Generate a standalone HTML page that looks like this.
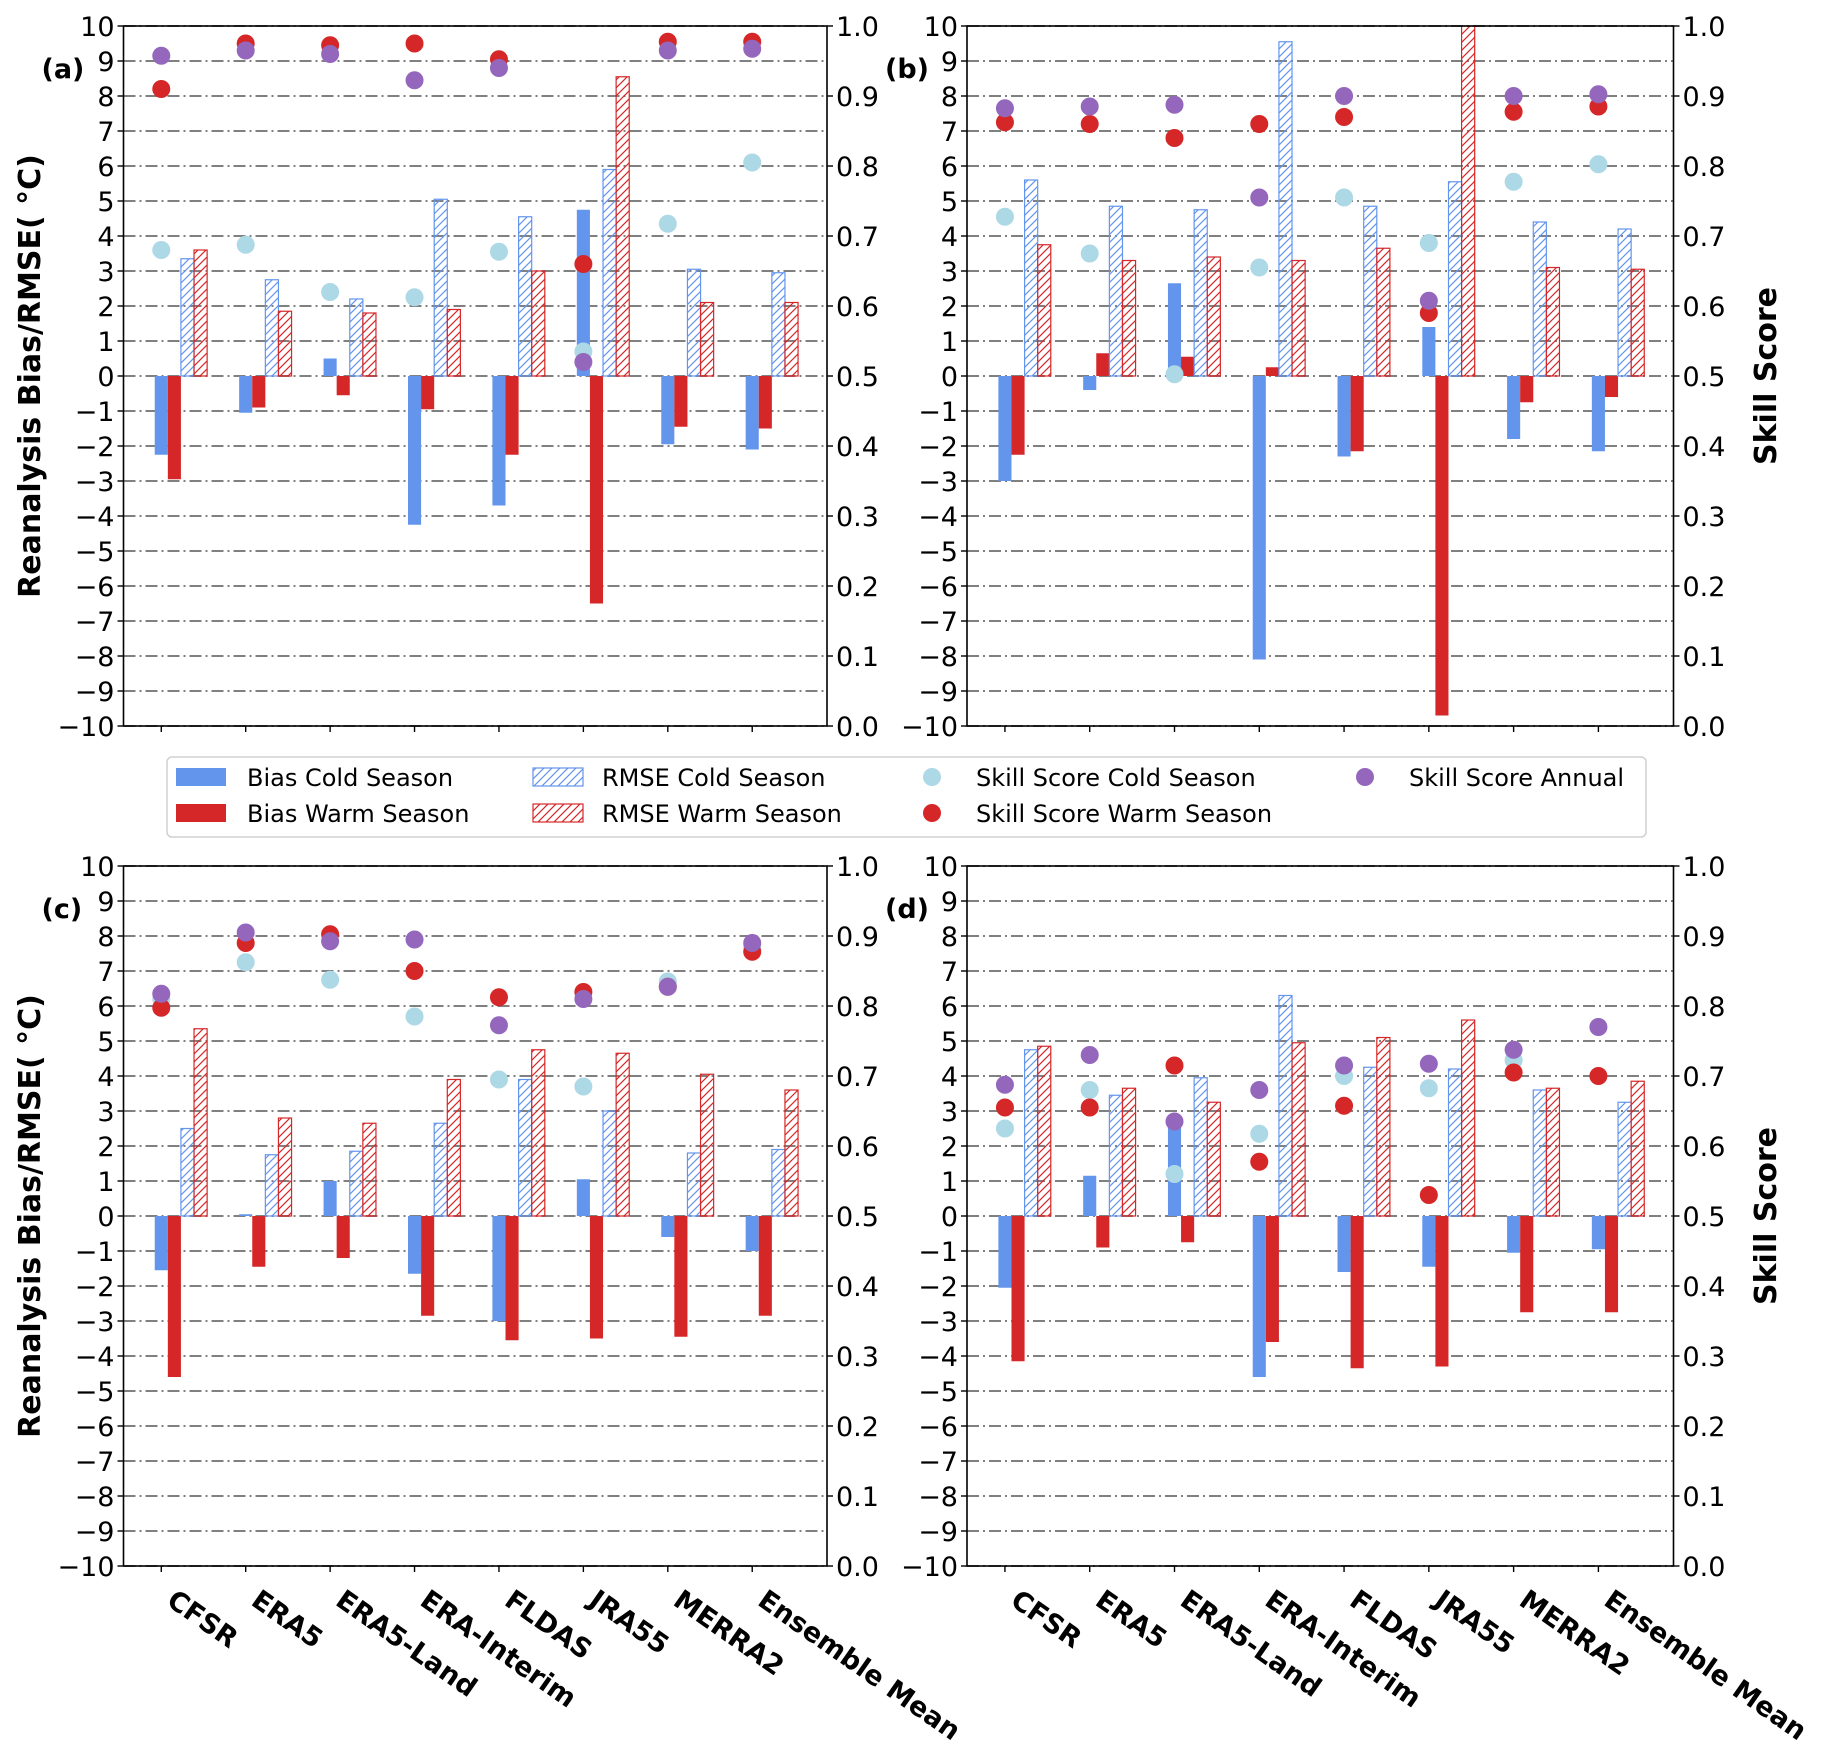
<!DOCTYPE html>
<html><head><meta charset="utf-8"><style>
html,body{margin:0;padding:0;background:#fff}
svg{display:block;font-family:"DejaVu Sans","Liberation Sans",sans-serif}
</style></head><body>
<svg id="fig" width="1826" height="1754" viewBox="0 0 1826 1754" xmlns="http://www.w3.org/2000/svg">
<defs>
<pattern id="hb" patternUnits="userSpaceOnUse" width="8" height="8">
<path d="M-2,10 L10,-2 M-2,2 L2,-2 M6,10 L10,6" stroke="#6495ED" stroke-width="1.2"/>
</pattern>
<pattern id="hr" patternUnits="userSpaceOnUse" width="8" height="8">
<path d="M-2,10 L10,-2 M-2,2 L2,-2 M6,10 L10,6" stroke="#D62728" stroke-width="1.2"/>
</pattern>
</defs>
</svg>
<script>
const categories = ["CFSR","ERA5","ERA5-Land","ERA-Interim","FLDAS","JRA55","MERRA2","Ensemble Mean"];
const yTicks = [-10,-9,-8,-7,-6,-5,-4,-3,-2,-1,0,1,2,3,4,5,6,7,8,9,10];
const skillTicks = ["0.0","0.1","0.2","0.3","0.4","0.5","0.6","0.7","0.8","0.9","1.0"];
const panelLabels = ["(a)","(b)","(c)","(d)"];

const biasColdA = [-2.25,-1.05,0.5,-4.25,-3.7,4.75,-1.95,-2.1];
const biasWarmA = [-2.95,-0.9,-0.55,-0.95,-2.25,-6.5,-1.45,-1.5];
const rmseColdA = [3.35,2.75,2.2,5.05,4.55,5.9,3.05,2.95];
const rmseWarmA = [3.6,1.85,1.8,1.9,3.0,8.55,2.1,2.1];
const skillColdA = [0.68,0.6875,0.62,0.6125,0.6775,0.535,0.7175,0.805];
const skillWarmA = [0.91,0.975,0.9725,0.975,0.9525,0.66,0.9775,0.9775];
const skillAnnA = [0.9575,0.965,0.96,0.9225,0.94,0.52,0.965,0.9675];

const biasColdB = [-3.0,-0.4,2.65,-8.1,-2.3,1.4,-1.8,-2.15];
const biasWarmB = [-2.25,0.65,0.55,0.25,-2.15,-9.7,-0.75,-0.6];
const rmseColdB = [5.6,4.85,4.75,9.55,4.85,5.55,4.4,4.2];
const rmseWarmB = [3.75,3.3,3.4,3.3,3.65,10.0,3.1,3.05];
const skillColdB = [0.7275,0.675,0.5025,0.655,0.755,0.69,0.7775,0.8025];
const skillWarmB = [0.8625,0.86,0.84,0.86,0.87,0.59,0.8775,0.885];
const skillAnnB = [0.8825,0.885,0.8875,0.755,0.9,0.6075,0.9,0.9025];

const biasColdC = [-1.55,0.05,1.0,-1.65,-3.0,1.05,-0.6,-1.0];
const biasWarmC = [-4.6,-1.45,-1.2,-2.85,-3.55,-3.5,-3.45,-2.85];
const rmseColdC = [2.5,1.75,1.85,2.65,3.9,3.0,1.8,1.9];
const rmseWarmC = [5.35,2.8,2.65,3.9,4.75,4.65,4.05,3.6];
const skillColdC = [0.81,0.8625,0.8375,0.785,0.695,0.685,0.835,0.885];
const skillWarmC = [0.7975,0.89,0.9025,0.85,0.8125,0.82,0.8275,0.8775];
const skillAnnC = [0.8175,0.905,0.8925,0.895,0.7725,0.81,0.8275,0.89];

const biasColdD = [-2.05,1.15,2.6,-4.6,-1.6,-1.45,-1.05,-0.95];
const biasWarmD = [-4.15,-0.9,-0.75,-3.6,-4.35,-4.3,-2.75,-2.75];
const rmseColdD = [4.75,3.45,3.95,6.3,4.25,4.2,3.6,3.25];
const rmseWarmD = [4.85,3.65,3.25,4.95,5.1,5.6,3.65,3.85];
const skillColdD = [0.625,0.68,0.56,0.6175,0.7,0.6825,0.7225,0.77];
const skillWarmD = [0.655,0.655,0.715,0.5775,0.6575,0.53,0.705,0.7];
const skillAnnD = [0.6875,0.73,0.635,0.68,0.715,0.7175,0.7375,0.77];

const svg = document.getElementById('fig');
const NS = 'http://www.w3.org/2000/svg';
function mk(tag, attrs, parent){const e=document.createElementNS(NS,tag);for(const k in attrs)e.setAttribute(k,attrs[k]);(parent||svg).appendChild(e);return e;}

const panels = [
 {id:'a',x0:123.5,x1:827,y0:26,y1:726,bc:biasColdA,bw:biasWarmA,rc:rmseColdA,rw:rmseWarmA,sc:skillColdA,sw:skillWarmA,sa:skillAnnA,xl:false},
 {id:'b',x0:967,x1:1673.5,y0:26,y1:726,bc:biasColdB,bw:biasWarmB,rc:rmseColdB,rw:rmseWarmB,sc:skillColdB,sw:skillWarmB,sa:skillAnnB,xl:false},
 {id:'c',x0:123.5,x1:827,y0:866,y1:1566,bc:biasColdC,bw:biasWarmC,rc:rmseColdC,rw:rmseWarmC,sc:skillColdC,sw:skillWarmC,sa:skillAnnC,xl:true},
 {id:'d',x0:967,x1:1673.5,y0:866,y1:1566,bc:biasColdD,bw:biasWarmD,rc:rmseColdD,rw:rmseWarmD,sc:skillColdD,sw:skillWarmD,sa:skillAnnD,xl:true}
];

panels.forEach((p,pi)=>{
  const g = mk('g',{});
  
  
  const W=p.x1-p.x0;
  const xs = i => p.x0 + W*(0.0537 + 0.12*i);
  const ys = v => p.y0 + (10 - v)/20*(p.y1-p.y0);
  const ss = s => p.y1 - s*(p.y1-p.y0);
  const bw = 13.1;
  yTicks.forEach(t=>{
    const y=ys(t);
    const l=mk('line',{x1:p.x0,x2:p.x1,y1:y,y2:y,stroke:'#808080','stroke-width':2,'stroke-dasharray':'12,4,2,4'},g);
    
    
  });
  const series=[[p.bc,'#6495ED',null,'bias-cold'],[p.bw,'#D62728',null,'bias-warm'],[p.rc,'#6495ED','url(#hb)','rmse-cold'],[p.rw,'#D62728','url(#hr)','rmse-warm']];
  series.forEach((s,k)=>{
    s[0].forEach((v,i)=>{
      const cx=xs(i)+k*bw;
      const yt=Math.min(ys(v),ys(0)), h=Math.abs(ys(v)-ys(0));
      const r=mk('rect',{x:cx-bw/2,y:yt,width:bw,height:h,fill:s[2]?s[2]:s[1],stroke:s[2]?s[1]:'none','stroke-width':s[2]?1.2:0},g);
      
      
    });
  });
  [[p.sc,'#ADD8E6','skill-cold'],[p.sw,'#D62728','skill-warm'],[p.sa,'#9467BD','skill-annual']].forEach(s=>{
    s[0].forEach((v,i)=>{
      const c=mk('circle',{cx:xs(i),cy:ss(v),r:9,fill:s[1]},g);
      
      
    });
  });
  const fr=mk('rect',{x:p.x0,y:p.y0,width:W,height:p.y1-p.y0,fill:'none',stroke:'#000','stroke-width':1.6},g);
  
  
  yTicks.forEach(t=>{
    const y=ys(t);
    mk('line',{x1:p.x0-6,x2:p.x0,y1:y,y2:y,stroke:'#000','stroke-width':1.4},g);
    const tx=mk('text',{x:p.x0-9,y:y+10,'text-anchor':'end','font-size':27,fill:'#000'},g);
    tx.textContent = t<0 ? '\u2212'+Math.abs(t) : String(t);
    
    
  });
  skillTicks.forEach((t,i)=>{
    const y=ss(i/10);
    mk('line',{x1:p.x1,x2:p.x1+6,y1:y,y2:y,stroke:'#000','stroke-width':1.4},g);
    const tx=mk('text',{x:p.x1+9,y:y+10,'font-size':27,fill:'#000'},g);
    tx.textContent=t;
    
    
  });
  categories.forEach((c,i)=>{
    const x=xs(i);
    mk('line',{x1:x,x2:x,y1:p.y1,y2:p.y1+6,stroke:'#000','stroke-width':1.4},g);
    if(p.xl){
      const tx=mk('text',{x:x+4,y:p.y1+38,'font-size':27,'font-weight':'bold',fill:'#000',transform:'rotate(35 '+(x+4)+' '+(p.y1+38)+')'},g);
      tx.textContent=c;
      
      
    }
  });
  const pl=mk('text',{x:p.x0-82,y:p.y0+52,'font-size':27,'font-weight':'bold',fill:'#000'},g);
  pl.textContent=panelLabels[pi];
  
  
  const cy=(p.y0+p.y1)/2;
  if(pi%2===0){
    const yl=mk('text',{x:40,y:cy,'text-anchor':'middle','font-size':30,'font-weight':'bold',fill:'#000',transform:'rotate(-90 40 '+cy+')'});
    yl.textContent='Reanalysis Bias/RMSE( \u00B0C)';
    
    
  } else {
    const yl=mk('text',{x:1776,y:cy,'text-anchor':'middle','font-size':30,'font-weight':'bold',fill:'#000',transform:'rotate(-90 1776 '+cy+')'});
    yl.textContent='Skill Score';
    
    
  }
});

const lg=mk('g',{});


mk('rect',{x:167,y:757,width:1479,height:80,rx:5,fill:'#fff',stroke:'#d0d0d0','stroke-width':1.5},lg);
const legendItems=[
 ['Bias Cold Season','rect','#6495ED',176,777,247],
 ['Bias Warm Season','rect','#D62728',176,813,247],
 ['RMSE Cold Season','hrect','#6495ED',533,777,602],
 ['RMSE Warm Season','hrect','#D62728',533,813,602],
 ['Skill Score Cold Season','dot','#ADD8E6',932,777,976],
 ['Skill Score Warm Season','dot','#D62728',932,813,976],
 ['Skill Score Annual','dot','#9467BD',1365,777,1409]
];
legendItems.forEach(it=>{
  const e=mk('g',{},lg);
  
  
  if(it[1]==='rect') mk('rect',{x:it[3],y:it[4]-9,width:50,height:18,fill:it[2]},e);
  else if(it[1]==='hrect') mk('rect',{x:it[3],y:it[4]-9,width:50,height:18,fill:it[2]==='#6495ED'?'url(#hb)':'url(#hr)',stroke:it[2],'stroke-width':1.2},e);
  else mk('circle',{cx:it[3],cy:it[4],r:9,fill:it[2]},e);
  const t=mk('text',{x:it[5],y:it[4]+9,'font-size':24,fill:'#000'},e);
  t.textContent=it[0];
});
</script>
</body></html>
